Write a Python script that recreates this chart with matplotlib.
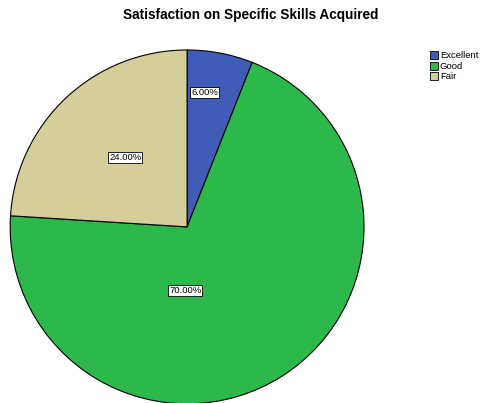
import matplotlib.pyplot as plt
from matplotlib.patches import Patch

plt.rcParams['font.family'] = ['Liberation Sans', 'DejaVu Sans']

categories = ['Excellent', 'Good', 'Fair']
values = [6.0, 70.0, 24.0]
colors = ['#3F5DB6', '#2DB84B', '#D5CD9A']
# label spots (data units of the unit-radius pie)
label_pos = [(0.10, 0.76), (-0.01, -0.36), (-0.35, 0.39)]

fig = plt.figure(figsize=(4.8, 4.03), dpi=100)
ax = fig.add_axes([0.021, -0.002, 0.7375, 0.878])

wedges, texts, autotexts = ax.pie(values, colors=colors, startangle=90, counterclock=False,
                                  autopct='%.2f%%', pctdistance=0.5,
                                  wedgeprops=dict(edgecolor='black', linewidth=0.8))
for t, p in zip(autotexts, label_pos):
    t.set_position(p)
    t.set_fontsize(6.8)
    t.set_bbox(dict(facecolor='white', edgecolor='black', linewidth=0.6, boxstyle='square,pad=0.1'))
ax.set_xlim(-1, 1)
ax.set_ylim(-1, 1)
ax.set_aspect('equal')

fig.text(0.523, 0.962, 'Satisfaction on Specific Skills Acquired', ha='center', va='center',
         fontsize=9.8, fontweight='bold')

handles = [Patch(facecolor=c, edgecolor='black', linewidth=0.6) for c in colors]
fig.legend(handles, categories, loc='upper left', bbox_to_anchor=(0.885, 0.885), frameon=False,
           fontsize=6.8, handlelength=0.9, handleheight=0.9, handletextpad=0.2,
           labelspacing=0.15, borderpad=0)

fig.savefig('out.png', dpi=100)
